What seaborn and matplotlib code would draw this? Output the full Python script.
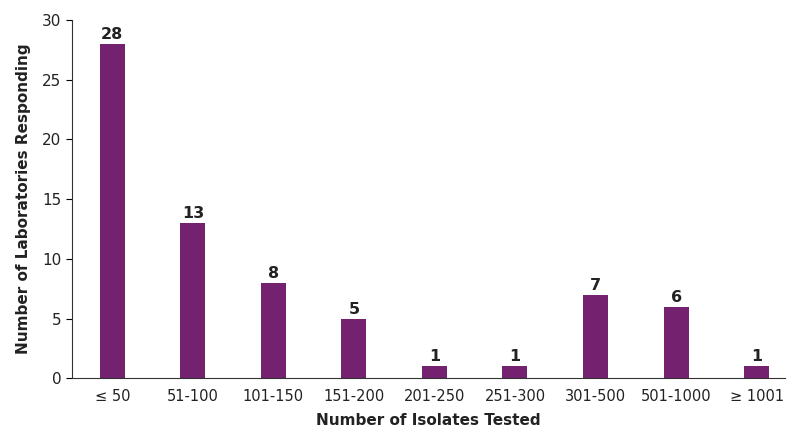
import matplotlib
matplotlib.use("Agg")
import matplotlib.pyplot as plt
import seaborn as sns
import pandas as pd

categories = ["≤ 50", "51-100", "101-150", "151-200", "201-250", "251-300", "301-500", "501-1000", "≥ 1001"]
values = [28, 13, 8, 5, 1, 1, 7, 6, 1]
yticks = [0, 5, 10, 15, 20, 25, 30]

df = pd.DataFrame({"cat": categories, "val": values})
fig = plt.figure(figsize=(8, 4.46), dpi=100)
ax = fig.add_axes([0.09, 0.152, 0.891, 0.803])
sns.barplot(data=df, x="cat", y="val", color="#74216f", saturation=1, width=0.31, ax=ax)
for i, v in enumerate(values):
    ax.text(i, v + 0.15, str(v), ha="center", va="bottom", fontsize=11.5, fontweight="bold", color="#222222")
ax.set_ylim(0, 30)
ax.set_yticks(yticks)
ax.set_xlim(-0.5, len(categories) - 0.65)
for s in ["top", "right"]:
    ax.spines[s].set_visible(False)
ax.spines["left"].set_color("#333333")
ax.spines["bottom"].set_color("#333333")
ax.tick_params(axis="x", length=0, labelsize=10.5, pad=8, labelcolor="#222222")
ax.tick_params(axis="y", labelsize=11, length=4, labelcolor="#222222")
ax.set_xlabel("Number of Isolates Tested", fontsize=11, fontweight="bold", labelpad=6, color="#222222")
ax.set_ylabel("Number of Laboratories Responding", fontsize=11, fontweight="bold", labelpad=8, color="#222222")
fig.savefig("out.png", dpi=100)
